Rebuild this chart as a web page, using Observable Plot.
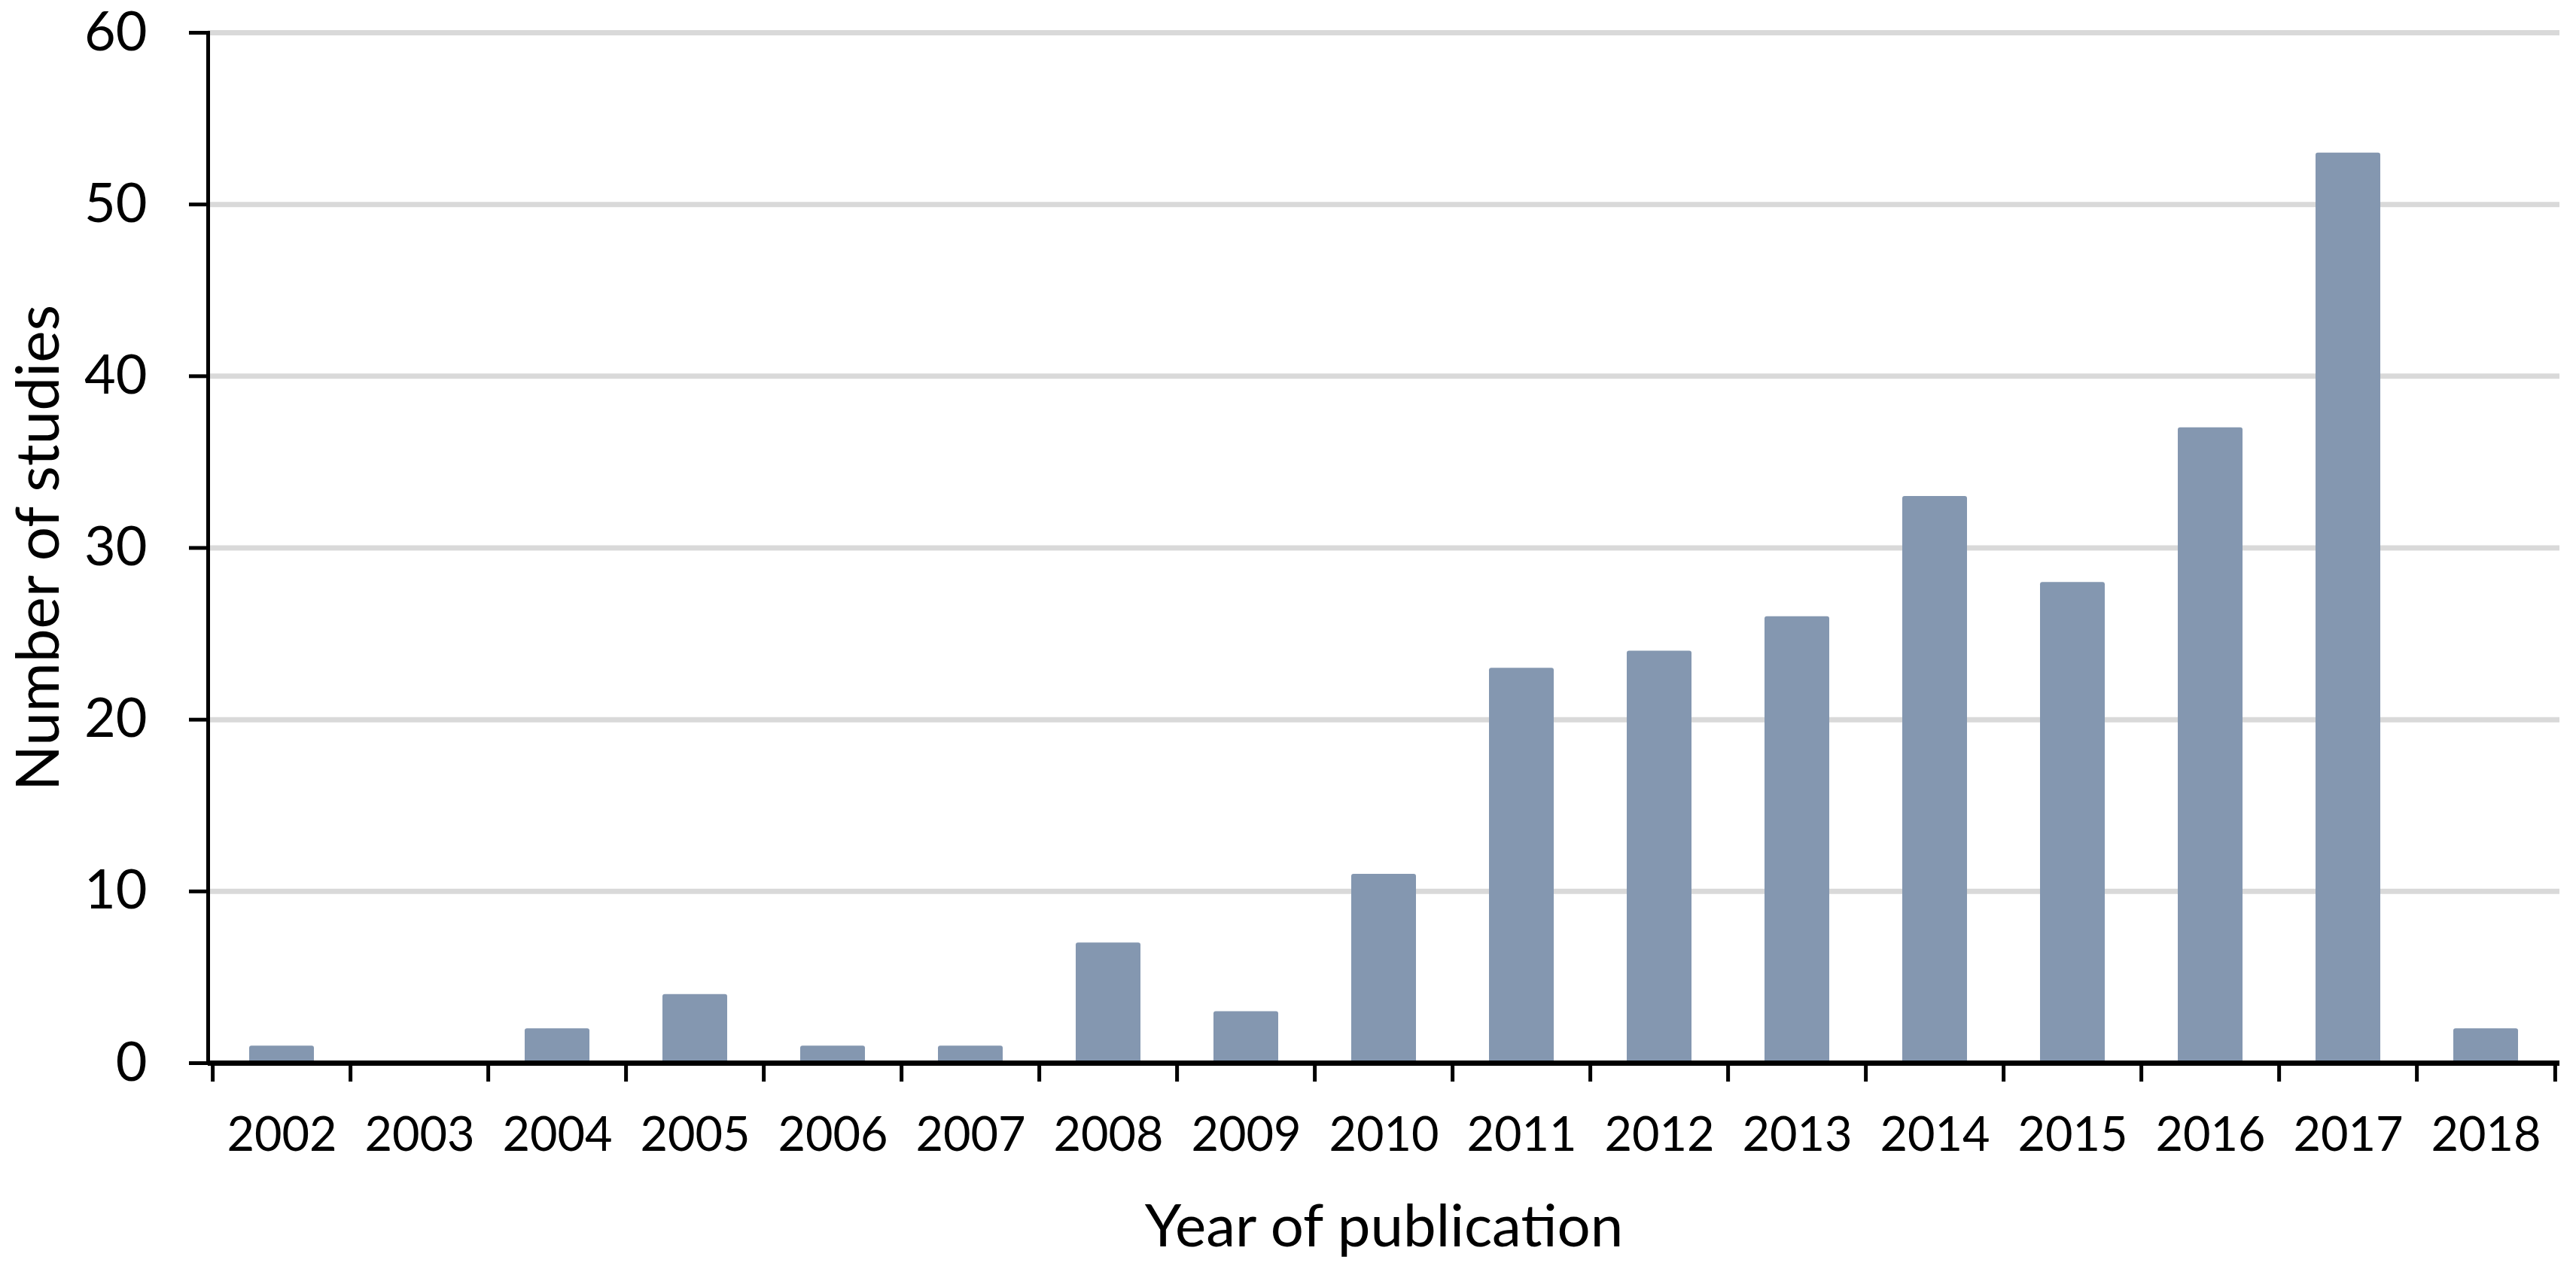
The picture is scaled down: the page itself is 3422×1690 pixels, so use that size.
<!DOCTYPE html>
<html>
<head>
<meta charset="utf-8">
<script src="https://cdn.jsdelivr.net/npm/d3@7"></script>
<script src="https://cdn.jsdelivr.net/npm/@observablehq/plot@0.6"></script>
<style>
  html, body { margin: 0; padding: 0; background: #ffffff; }
  #chart svg { display: block; }
</style>
</head>
<body>
<div id="chart"></div>
<script>
// ---- data ----
const years = ["2002","2003","2004","2005","2006","2007","2008","2009","2010","2011","2012","2013","2014","2015","2016","2017","2018"];
const counts = [1, 0, 2, 4, 1, 1, 7, 3, 11, 23, 24, 26, 33, 28, 37, 53, 2];
const yTicks = [0, 10, 20, 30, 40, 50, 60];
const xTitle = "Year of publication";
const yTitle = "Number of studies";

const data = years.map((year, i) => ({year, count: counts[i]}));

// ---- layout ----
const W = 3422, H = 1690;
const mL = 276, mR = 22, mT = 43, mB = 278;
const step = (W - mL - mR) / years.length;
const font = "Lato, 'Open Sans', sans-serif";

const chart = Plot.plot({
  width: W,
  height: H,
  marginLeft: mL,
  marginRight: mR,
  marginTop: mT,
  marginBottom: mB,
  style: {fontFamily: font, background: "#ffffff", color: "#000000"},
  x: {type: "band", domain: years, paddingInner: 0.53, paddingOuter: 0.265, axis: null},
  y: {domain: [0, 60], axis: null},
  marks: [
    Plot.gridY(yTicks, {stroke: "#D9D9D9", strokeOpacity: 1, strokeWidth: 7}),
    Plot.barY(data, {x: "year", y: "count", fill: "#8497B0", rx: 3}),
    Plot.ruleY([0], {stroke: "#000000", strokeWidth: 7}),
    Plot.frame({anchor: "left", stroke: "#000000", strokeWidth: 5}),
    Plot.axisY(yTicks, {tickSize: 25, tickPadding: 56, strokeWidth: 5, fontSize: 72, label: null, tickFormat: d => String(d)}),
    // category boundary ticks (Excel style, between categories)
    Plot.axisX(years, {tickSize: 25, strokeWidth: 5, dx: -step / 2, tickFormat: () => "", label: null}),
    Plot.axisX([years[years.length - 1]], {tickSize: 25, strokeWidth: 5, dx: step / 2, tickFormat: () => "", label: null}),
    // category labels
    Plot.axisX(years, {tickSize: 0, tickPadding: 72, fontSize: 63, label: null}),
    // axis titles
    Plot.text([yTitle], {frameAnchor: "left", textAnchor: "middle", lineAnchor: "middle", rotate: -90, dx: -224, fontSize: 80, fill: "#000000"}),
    Plot.text([xTitle], {frameAnchor: "bottom", textAnchor: "middle", lineAnchor: "middle", dy: 219, fontSize: 78, fill: "#000000"})
  ]
});

document.getElementById("chart").appendChild(chart);
</script>
</body>
</html>
